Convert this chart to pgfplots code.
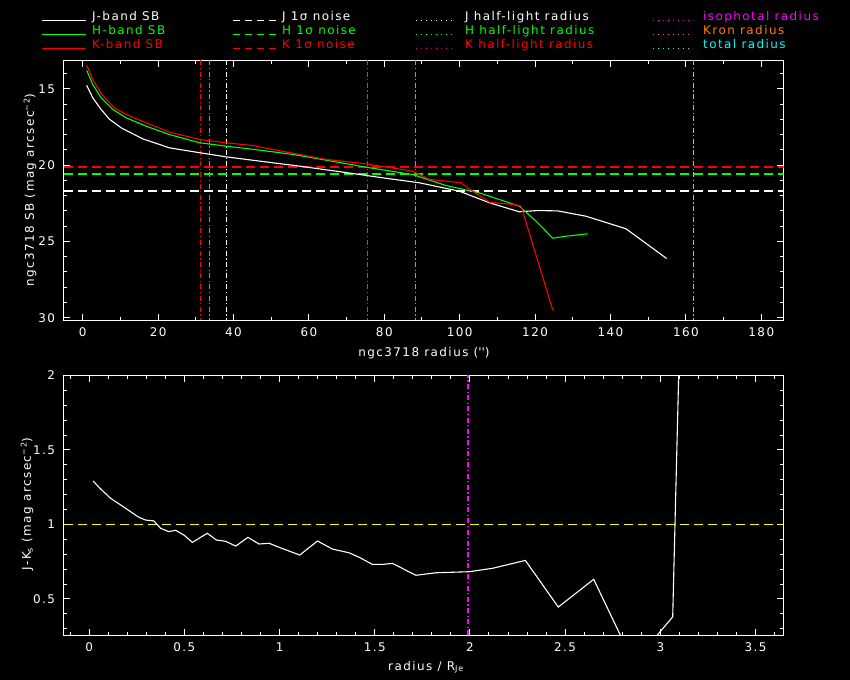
\documentclass[border=0pt]{standalone}
\usepackage{fontspec}
\setmainfont{DejaVu Sans}[LetterSpace=12]
\usepackage{pgfplots}
\pgfplotsset{compat=1.18}
\definecolor{pgreen}{RGB}{0,255,0}
\definecolor{pred}{RGB}{255,0,0}
\definecolor{pmag}{RGB}{255,0,255}
\definecolor{porange}{RGB}{255,128,0}
\definecolor{pcyan}{RGB}{0,255,255}
\definecolor{pyellow}{RGB}{255,255,0}
\newcommand{\lf}{\fontsize{12}{14}\selectfont}
\pgfplotsset{
  sbaxis/.style={
    scale only axis, width=720bp, height=260bp,
    axis line style={white, line width=1.1bp},
    tick style={white, line width=1bp},
    major tick length=6.5bp, minor tick length=3.5bp,
    tick align=inside, xtick pos=both, ytick pos=both,
    tick label style={white, font=\lf},
    /pgf/number format/assume math mode=true,
    xticklabel style={yshift=-4bp},
    yticklabel style={xshift=-5bp},
    enlargelimits=false,
    clip=true,
  },
  hdash/.style={line width=1.2bp, dash pattern=on 9bp off 5bp},
  vdot/.style={line width=1.2bp, dash pattern=on 5bp off 2.5bp on 1.2bp off 2.5bp},
}
\begin{document}
\begin{tikzpicture}
\fill[black] (0bp,0bp) rectangle (850bp,680bp);
% ---------- legend ----------
\begin{scope}[every node/.style={anchor=base west, inner sep=0pt, font=\lf}]
\draw[white, line width=1.2bp] (42bp,659.5bp)--(86bp,659.5bp); \node[white] at (92bp,659.5bp) {J-band SB};
\draw[pgreen, line width=1.2bp] (42bp,645.5bp)--(86bp,645.5bp); \node[pgreen] at (92bp,645.5bp) {H-band SB};
\draw[pred, line width=1.2bp] (42bp,631.5bp)--(86bp,631.5bp); \node[pred] at (92bp,631.5bp) {K-band SB};
\draw[white, line width=1.2bp, dash pattern=on 7bp off 5bp] (233bp,659.5bp)--(276bp,659.5bp); \node[white] at (282bp,659.5bp) {J 1σ noise};
\draw[pgreen, line width=1.2bp, dash pattern=on 7bp off 5bp] (233bp,645.5bp)--(276bp,645.5bp); \node[pgreen] at (282bp,645.5bp) {H 1σ noise};
\draw[pred, line width=1.2bp, dash pattern=on 7bp off 5bp] (233bp,631.5bp)--(276bp,631.5bp); \node[pred] at (282bp,631.5bp) {K 1σ noise};
\draw[white, line width=1.2bp, dash pattern=on 1.2bp off 3.8bp] (416bp,659.5bp)--(455bp,659.5bp); \node[white] at (465bp,659.5bp) {J half-light radius};
\draw[pgreen, line width=1.2bp, dash pattern=on 1.2bp off 3.8bp] (416bp,645.5bp)--(455bp,645.5bp); \node[pgreen] at (465bp,645.5bp) {H half-light radius};
\draw[pred, line width=1.2bp, dash pattern=on 1.2bp off 3.8bp] (416bp,631.5bp)--(455bp,631.5bp); \node[pred] at (465bp,631.5bp) {K half-light radius};
\draw[pmag, line width=1.2bp, dash pattern=on 1.2bp off 3.8bp] (653bp,659.5bp)--(693bp,659.5bp); \node[pmag] at (703bp,659.5bp) {isophotal radius};
\draw[porange, line width=1.2bp, dash pattern=on 1.2bp off 3.8bp] (653bp,645.5bp)--(693bp,645.5bp); \node[porange] at (703bp,645.5bp) {Kron radius};
\draw[pcyan, line width=1.2bp, dash pattern=on 1.2bp off 3.8bp] (653bp,631.5bp)--(693bp,631.5bp); \node[pcyan] at (703bp,631.5bp) {total radius};
\end{scope}
% ---------- top axis ----------
\begin{axis}[sbaxis, at={(63.5bp,359.5bp)}, anchor=south west,
  xmin=-5.1, xmax=185.9, ymin=13.15, ymax=30.18, y dir=reverse,
  xtick={0,20,40,60,80,100,120,140,160,180},
  minor xtick={10,30,50,70,90,110,130,150,170},
  ytick={15,20,25,30},
  minor ytick={14,16,17,18,19,21,22,23,24,26,27,28,29}]
\addplot[pred, vdot] coordinates {(31.2,13.15) (31.2,30.18)};
\addplot[pgreen, vdot] coordinates {(33.6,13.15) (33.6,30.18)};
\addplot[white, vdot] coordinates {(38.1,13.15) (38.1,30.18)};
\addplot[pmag, vdot] coordinates {(75.5,13.15) (75.5,30.18)};
\addplot[porange, vdot] coordinates {(88.2,13.15) (88.2,30.18)};
\addplot[pcyan, vdot] coordinates {(162.0,13.15) (162.0,30.18)};
\addplot[pred, hdash] coordinates {(-5.1,20.12) (185.9,20.12)};
\addplot[pgreen, hdash] coordinates {(-5.1,20.59) (185.9,20.59)};
\addplot[white, hdash] coordinates {(-5.1,21.70) (185.9,21.70)};
\addplot[white, line width=1.1bp] coordinates {
(1.06,14.78) (2.65,15.59) (4.9,16.36) (7.1,17.0) (10.2,17.56) (15.9,18.28)
(23.0,18.87) (31,19.19) (38,19.46) (46.9,19.74) (57.5,20.07) (69,20.46)
(80,20.85) (89.3,21.16) (99.9,21.71) (107.9,22.47) (115.8,23.06) (120.5,22.98)
(126,23.0) (133.5,23.35) (144.1,24.17) (154.9,26.12)};
\addplot[pgreen, line width=1.1bp] coordinates {
(1.06,13.8) (2.65,14.72) (4.9,15.59) (8,16.36) (11.5,16.9) (16.8,17.45)
(23,18.0) (31,18.54) (38,18.76) (46.9,19.02) (55.7,19.3) (64.6,19.68)
(75.2,20.14) (87.5,20.62) (96.4,21.34) (105.2,21.82) (115.8,22.69)
(120.3,23.68) (124.7,24.79) (128.2,24.66) (134,24.5)};
\addplot[pred, line width=1.1bp] coordinates {
(1.06,13.47) (2.65,14.39) (4.9,15.33) (8.4,16.25) (11.5,16.68) (16.8,17.23)
(23,17.84) (31,18.32) (38,18.54) (45.1,18.72) (50.4,18.98) (57.5,19.3)
(64.6,19.63) (75.2,19.92) (87.5,20.4) (92,20.94) (100.4,21.16) (102.1,21.49)
(107.9,22.43) (115,22.6) (116.3,22.69) (124.7,29.51)};
\end{axis}
% ---------- bottom axis ----------
\begin{axis}[sbaxis, at={(63.5bp,44.5bp)}, anchor=south west,
  xmin=-0.135, xmax=3.647, ymin=0.255, ymax=2,
  xtick={0,0.5,1,1.5,2,2.5,3,3.5},
  minor xtick={-0.1,0.1,0.2,0.3,0.4,0.6,0.7,0.8,0.9,1.1,1.2,1.3,1.4,1.6,1.7,1.8,1.9,2.1,2.2,2.3,2.4,2.6,2.7,2.8,2.9,3.1,3.2,3.3,3.4,3.6},
  ytick={0.5,1,1.5,2},
  minor ytick={0.3,0.4,0.6,0.7,0.8,0.9,1.1,1.2,1.3,1.4,1.6,1.7,1.8,1.9}]
\addplot[pmag, vdot] coordinates {(1.99,0.255) (1.99,2)};
\addplot[pyellow, hdash] coordinates {(-0.135,1) (3.647,1)};
\addplot[white, line width=1.1bp] coordinates {
(0.021,1.292) (0.051,1.25) (0.112,1.176) (0.191,1.109) (0.261,1.048) (0.296,1.03)
(0.34,1.024) (0.375,0.974) (0.419,0.952) (0.454,0.961) (0.498,0.929) (0.542,0.88)
(0.62,0.941) (0.668,0.896) (0.717,0.887) (0.77,0.855) (0.834,0.914) (0.892,0.869)
(0.945,0.874) (0.997,0.847) (1.106,0.795) (1.199,0.889) (1.278,0.835) (1.365,0.81)
(1.418,0.78) (1.488,0.732) (1.54,0.732) (1.593,0.739) (1.716,0.659) (1.821,0.676)
(1.996,0.683) (2.119,0.706) (2.291,0.759) (2.464,0.446) (2.65,0.632) (2.86,0.07)
(3.065,0.38) (3.12,3.22)};
\end{axis}
% ---------- axis labels ----------
\node[white, font=\lf, anchor=base] at (424bp,323bp) {ngc3718 radius (\textquotesingle\textquotesingle)};
\node[white, font=\lf, rotate=90] at (30bp,490bp) {ngc3718 SB (mag arcsec\textsuperscript{−2})};
\node[white, font=\lf, anchor=base] at (426bp,10bp) {radius / R\textsubscript{Je}};
\node[white, font=\lf, rotate=90] at (27bp,176bp) {J-K\textsubscript{s} (mag arcsec\textsuperscript{−2})};
\end{tikzpicture}
\end{document}
